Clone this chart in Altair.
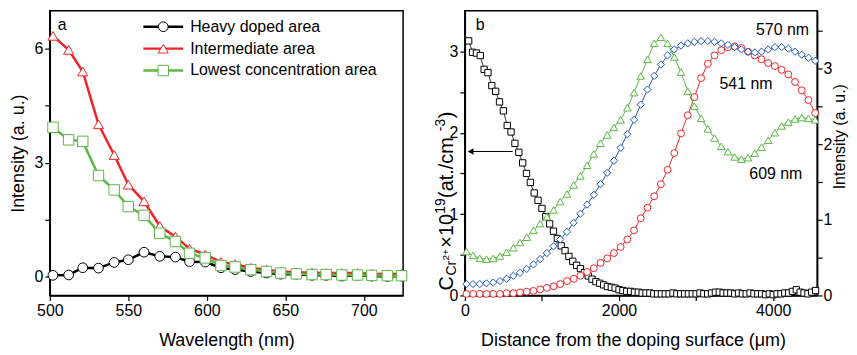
import altair as alt
import pandas as pd

# ---------------- panel a data ----------------
wavelength = [502, 512, 521, 531, 541, 550, 560, 570, 580, 589, 599, 609,
              618, 628, 638, 647, 657, 667, 676, 686, 696, 705, 715, 724]
heavy = [0.03, 0.04, 0.23, 0.22, 0.37, 0.44, 0.64, 0.53, 0.51, 0.39, 0.38, 0.23,
         0.18, 0.13, 0.09, 0.06, 0.06, 0.03, 0.03, 0.01, 0.03, 0.01, 0.00, 0.01]
intermediate = [6.34, 5.97, 5.40, 4.01, 3.20, 2.42, 1.98, 1.33, 1.05, 0.73, 0.58, 0.38,
                0.32, 0.23, 0.18, 0.13, 0.11, 0.10, 0.09, 0.09, 0.09, 0.07, 0.06, 0.07]
lowest = [3.93, 3.60, 3.56, 2.66, 2.28, 1.84, 1.61, 1.14, 0.92, 0.61, 0.49, 0.29,
          0.25, 0.18, 0.13, 0.09, 0.07, 0.05, 0.05, 0.04, 0.04, 0.03, 0.02, 0.02]
names_a = ["Heavy doped area", "Intermediate area", "Lowest concentration area"]
colors_a = ["#000000", "#EC2529", "#5CB745"]
shapes_a = ["circle", "triangle-up", "square"]
sizes_a = [95, 110, 80]

# ---------------- panel b data ----------------
dist_conc = list(range(50, 4551, 50))
conc = [3.13, 2.99, 2.98, 2.95, 2.78, 2.74, 2.58, 2.51, 2.38, 2.27,
        2.09, 2.01, 1.87, 1.76, 1.63, 1.50, 1.39, 1.26, 1.17, 1.07,
        0.97, 0.88, 0.79, 0.70, 0.61, 0.55, 0.48, 0.42, 0.37, 0.33,
        0.28, 0.24, 0.20, 0.17, 0.15, 0.13, 0.11, 0.10, 0.09, 0.07,
        0.06, 0.05, 0.05, 0.04, 0.04, 0.03,
        0.03, 0.03, 0.02, 0.02, 0.02, 0.02, 0.02, 0.03, 0.02, 0.02,
        0.02, 0.02, 0.02, 0.02, 0.03, 0.02, 0.02, 0.03, 0.04, 0.04,
        0.03, 0.03, 0.03, 0.02, 0.03, 0.02, 0.02, 0.03, 0.02, 0.02,
        0.02, 0.01, 0.02, 0.01, 0.02, 0.02, 0.03, 0.03, 0.05, 0.07,
        0.04, 0.03, 0.02, 0.04, 0.06]
assert len(conc) == len(dist_conc)

dist_pl = list(range(20, 4545, 87))
pl_541 = [0.02, 0.02, 0.02, 0.02, 0.02, 0.02, 0.03, 0.03, 0.04, 0.05,
          0.06, 0.08, 0.10, 0.12, 0.15, 0.19, 0.22, 0.26, 0.31, 0.36,
          0.43, 0.49, 0.56, 0.64, 0.74, 0.86, 1.02, 1.16, 1.31, 1.47,
          1.66, 1.88, 2.14, 2.38, 2.62, 2.87, 3.06, 3.17, 3.24, 3.28,
          3.29, 3.27, 3.22, 3.17, 3.12, 3.07, 3.03, 2.98, 2.92, 2.82,
          2.71, 2.58, 2.41]
pl_570 = [0.15, 0.15, 0.15, 0.16, 0.17, 0.19, 0.22, 0.26, 0.30, 0.35,
          0.41, 0.48, 0.56, 0.65, 0.74, 0.84, 0.96, 1.08, 1.20, 1.33,
          1.47, 1.62, 1.78, 1.95, 2.13, 2.32, 2.52, 2.72, 2.90, 3.05,
          3.17, 3.25, 3.30, 3.33, 3.35, 3.36, 3.36, 3.35, 3.33, 3.31,
          3.28, 3.25, 3.22, 3.21, 3.22, 3.25, 3.28, 3.28, 3.26, 3.22,
          3.18, 3.14, 3.10]
pl_609 = [0.58, 0.53, 0.49, 0.48, 0.49, 0.52, 0.57, 0.63, 0.70, 0.77,
          0.86, 0.95, 1.04, 1.13, 1.24, 1.34, 1.46, 1.58, 1.72, 1.87,
          2.01, 2.12, 2.22, 2.32, 2.48, 2.68, 2.90, 3.12, 3.33, 3.41,
          3.33, 3.15, 2.95, 2.70, 2.50, 2.34, 2.20, 2.08, 1.97, 1.90,
          1.83, 1.80, 1.82, 1.88, 1.96, 2.05, 2.15, 2.24, 2.29, 2.33,
          2.35, 2.34, 2.32]
assert len(pl_541) == len(dist_pl) == len(pl_570) == len(pl_609)
names_b = ["541 nm", "570 nm", "609 nm"]
colors_b = ["#EC2529", "#1F58BA", "#5CB745"]
shapes_b = ["circle", "diamond", "triangle-up"]
sizes_b = [48, 58, 55]
label_x = [3303, 4465, 3690]
label_y = [2.79, 3.50, 1.60]
label_align = ["left", "right", "left"]

FONT = "Liberation Sans"
W_A, W_B, H = 355, 354, 286

# ---------------- panel a ----------------
rows = []
for name, vals in zip(names_a, [heavy, intermediate, lowest]):
    for w, v in zip(wavelength, vals):
        rows.append({"wl": w, "val": v, "series": name})
df_a = pd.DataFrame(rows)

col_a = alt.Color("series:N", scale=alt.Scale(domain=names_a, range=colors_a), legend=None)
str_a = alt.Stroke("series:N", scale=alt.Scale(domain=names_a, range=colors_a), legend=None)
shp_a = alt.Shape("series:N", scale=alt.Scale(domain=names_a, range=shapes_a), legend=None)
siz_a = alt.Size("series:N", scale=alt.Scale(domain=names_a, range=sizes_a), legend=None)

x_a = alt.X("wl:Q", scale=alt.Scale(domain=[500, 725], nice=False, zero=False),
            axis=alt.Axis(values=[500, 525, 550, 575, 600, 625, 650, 675, 700, 725],
                          labelExpr="datum.value % 50 === 0 ? format(datum.value, 'd') : ''",
                          labelFlush=False,
                          title="Wavelength (nm)", titlePadding=13))
y_a = alt.Y("val:Q", scale=alt.Scale(domain=[-0.5, 7.0], nice=False, zero=False),
            axis=alt.Axis(values=[0, 1.5, 3, 4.5, 6],
                          labelExpr="datum.value % 3 === 0 ? format(datum.value, 'd') : ''",
                          labelFlush=False,
                          title="Intensity (a. u.)", titlePadding=7))

lines_a = alt.Chart(df_a).mark_line(strokeWidth=2.5).encode(
    x=x_a, y=y_a, color=col_a, detail="series:N")
pts_a = alt.Chart(df_a).mark_point(filled=False, fill="white", fillOpacity=1,
                                    strokeWidth=1, opacity=1).encode(
    x="wl:Q", y="val:Q", stroke=str_a, shape=shp_a, size=siz_a)

df_leg = pd.DataFrame({"series": names_a, "row": [0, 1, 2]})
y_leg = alt.Y("row:Q", scale=alt.Scale(domain=[0, 2], range=[16, 60]), axis=None)
leg_rule = alt.Chart(df_leg).mark_rule(strokeWidth=2.5).encode(
    x=alt.value(94), x2=alt.value(134), y=y_leg, color=col_a)
leg_pt = alt.Chart(df_leg).mark_point(filled=False, fill="white", fillOpacity=1,
                                      strokeWidth=1, opacity=1).encode(
    x=alt.value(114), y="row:Q", stroke=str_a, shape=shp_a, size=siz_a)
leg_txt = alt.Chart(df_leg).mark_text(align="left", baseline="middle", fontSize=16,
                                      font=FONT, color="black").encode(
    x=alt.value(141), y="row:Q", text="series:N")
tag_a = alt.Chart(pd.DataFrame({"t": ["a"]})).mark_text(
    align="left", baseline="middle", fontSize=16, font=FONT, color="black").encode(
    x=alt.value(8), y=alt.value(14), text="t:N")

panel_a = alt.layer(
    alt.layer(lines_a, pts_a),
    alt.layer(leg_rule, leg_pt, leg_txt, tag_a),
).resolve_scale(y="independent").properties(width=W_A, height=H)

# ---------------- panel b ----------------
df_c = pd.DataFrame({"d": dist_conc, "c": conc})
rows = []
for name, vals in zip(names_b, [pl_541, pl_570, pl_609]):
    for d, v in zip(dist_pl, vals):
        rows.append({"d": d, "v": v, "series": name})
df_pl = pd.DataFrame(rows)

x_b = alt.X("d:Q", scale=alt.Scale(domain=[0, 4570], nice=False, zero=False),
            axis=alt.Axis(values=[0, 1000, 2000, 3000, 4000],
                          labelExpr="datum.value % 2000 === 0 ? format(datum.value, 'd') : ''",
                          labelFlush=False,
                          title="Distance from the doping surface (\u03bcm)", titlePadding=13,
                          titleX=169))
y_left = alt.Y("c:Q", scale=alt.Scale(domain=[0, 3.5], nice=False, zero=False),
               axis=alt.Axis(values=[0, 0.5, 1, 1.5, 2, 2.5, 3],
                             labelExpr="datum.value % 1 === 0 ? format(datum.value, 'd') : ''",
                             labelFlush=False, title=None, orient="left"))

blk_line = alt.Chart(df_c).mark_line(strokeWidth=0.8, color="black").encode(x=x_b, y=y_left)
blk_pts = alt.Chart(df_c).mark_point(shape="square", size=40, filled=False, fill="white",
                                     fillOpacity=1, stroke="black", strokeWidth=1,
                                     opacity=1).encode(x="d:Q", y="c:Q")
df_arrow = pd.DataFrame({"d": [75], "d2": [620], "c": [1.77]})
arrow_rule = alt.Chart(df_arrow).mark_rule(strokeWidth=1, color="black").encode(
    x="d:Q", x2="d2:Q", y="c:Q")
arrow_head = alt.Chart(df_arrow).mark_point(shape="triangle-left", size=45, filled=True,
                                            color="black", opacity=1).encode(
    x="d:Q", y="c:Q")

tag_b = alt.Chart(pd.DataFrame({"t": ["b"]})).mark_text(
    align="left", baseline="middle", fontSize=16, font=FONT, color="black").encode(
    x=alt.value(11), y=alt.value(14), text="t:N")

# left y-axis title built from pieces (sub/superscripts), rotated
title_pieces = pd.DataFrame({
    "t": ["C", "Cr", "2+", "\u00d710", "19", " (at./cm", "-3", ")"],
    "px": [-18, -13, -19, -18, -24, -18, -24, -18],
    "py": [281, 266, 251, 238, 204, 188, 121, 108],
    "fs": [20, 14, 10, 20, 14, 20, 14, 20],
})
ytitle_b = alt.Chart(title_pieces).mark_text(
    angle=270, align="left", baseline="middle", font=FONT, color="black").encode(
    x=alt.X("px:Q", scale=None), y=alt.Y("py:Q", scale=None),
    text="t:N", size=alt.Size("fs:Q", scale=None, legend=None))

left_b = alt.layer(blk_line, blk_pts, arrow_rule, arrow_head, tag_b)

col_b = alt.Color("series:N", scale=alt.Scale(domain=names_b, range=colors_b), legend=None)
str_b = alt.Stroke("series:N", scale=alt.Scale(domain=names_b, range=colors_b), legend=None)
shp_b = alt.Shape("series:N", scale=alt.Scale(domain=names_b, range=shapes_b), legend=None)
siz_b = alt.Size("series:N", scale=alt.Scale(domain=names_b, range=sizes_b), legend=None)
y_right = alt.Y("v:Q", scale=alt.Scale(domain=[0, 3.76], nice=False, zero=False),
                axis=alt.Axis(values=[0, 0.5, 1, 1.5, 2, 2.5, 3, 3.5],
                              labelExpr="datum.value % 1 === 0 ? format(datum.value, 'd') : ''",
                              labelFlush=False,
                              title="Intensity (a. u.)", orient="right", labelPadding=1,
                              titleAngle=270, titleBaseline="top", titlePadding=0,
                              titleFontSize=16, titleY=126))
pl_lines = alt.Chart(df_pl).mark_line(strokeWidth=1).encode(
    x="d:Q", y=y_right, color=col_b, detail="series:N")
pl_pts = alt.Chart(df_pl).mark_point(filled=False, fill="white", fillOpacity=1,
                                     strokeWidth=1, opacity=1).encode(
    x="d:Q", y="v:Q", stroke=str_b, shape=shp_b, size=siz_b)
df_lab = pd.DataFrame({"d": label_x, "v": label_y, "t": names_b, "al": label_align})
lab_parts = []
for al in ["left", "right"]:
    lab_parts.append(
        alt.Chart(df_lab[df_lab["al"] == al]).mark_text(
            align=al, baseline="middle", fontSize=16, font=FONT, color="black").encode(
            x="d:Q", y="v:Q", text="t:N"))
right_b = alt.layer(pl_lines, pl_pts, *lab_parts)

panel_b = alt.layer(left_b, right_b, ytitle_b).resolve_scale(
    y="independent", size="independent").properties(width=W_B, height=H)

chart = alt.hconcat(panel_a, panel_b, spacing=23).resolve_scale(
    color="independent", stroke="independent", shape="independent", size="independent"
).properties(
    padding={"left": 0, "top": 1, "right": 0, "bottom": 0}
).configure_view(stroke="black", strokeWidth=1.5).configure_axis(
    labelFont=FONT, titleFont=FONT, labelFontSize=16, titleFontSize=18,
    labelColor="black", titleColor="black", titleFontWeight="normal",
    domainColor="black", domainWidth=1.5, tickColor="black", tickWidth=1.2,
    tickSize=5, labelPadding=2, grid=False,
)

chart.save("out.html", embed_options={"renderer": "svg", "actions": False})
